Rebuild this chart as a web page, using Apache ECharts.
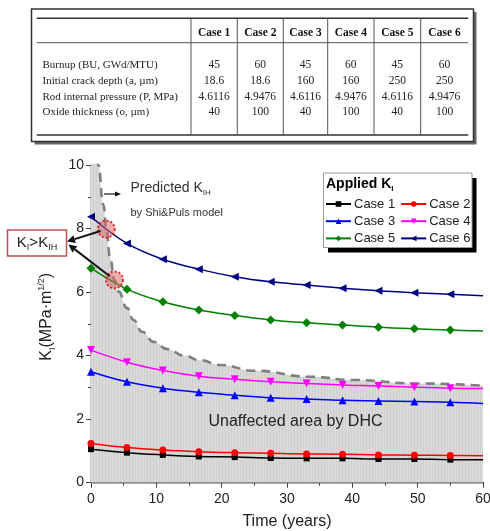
<!DOCTYPE html>
<html>
<head>
<meta charset="utf-8">
<script src="https://cdn.jsdelivr.net/npm/echarts@6/dist/echarts.min.js"></script>
<style>
html,body{margin:0;padding:0;background:#fff;}
#chart{width:490px;height:531px;}
</style>
</head>
<body>
<div id="chart"></div>
<script>
// ---------- data ----------
const tableCols = ['Case 1','Case 2','Case 3','Case 4','Case 5','Case 6'];
const rowLabels = ['Burnup (BU, GWd/MTU)','Initial crack depth (a, \u00b5m)','Rod internal pressure (P, MPa)','Oxide thickness (o, \u00b5m)'];
const burnup = ['45','60','45','60','45','60'];
const crackDepth = ['18.6','18.6','160','160','250','250'];
const pressure = ['4.6116','4.9476','4.6116','4.9476','4.6116','4.9476'];
const oxide = ['40','100','40','100','40','100'];

const seriesNames = ['Case 1','Case 2','Case 3','Case 4','Case 5','Case 6'];
const times = [0,5.5,11,16.5,22,27.5,33,38.5,44,49.5,55,60];
const case1 = [1.05,0.94,0.87,0.82,0.80,0.77,0.76,0.76,0.74,0.74,0.72,0.72];
const case2 = [1.23,1.10,1.02,0.97,0.94,0.92,0.90,0.89,0.87,0.86,0.85,0.84];
const case3 = [3.49,3.17,2.97,2.84,2.75,2.67,2.63,2.59,2.57,2.55,2.53,2.49];
const case4 = [4.17,3.79,3.53,3.35,3.25,3.17,3.12,3.07,3.04,3.00,2.97,2.96];
const case5 = [6.75,6.09,5.69,5.43,5.26,5.12,5.03,4.96,4.89,4.84,4.80,4.77];
const case6 = [8.37,7.53,7.03,6.72,6.48,6.32,6.22,6.12,6.04,5.98,5.93,5.88];

const kihTimes  = [0,0.5,1.1,1.9,2.4,2.9,3.6,4.2,5.5,6.5,7.8,9.6,11.7,14.2,16.7,19.8,25,33.6,40,50,60];
const kihValues = [13.5,11.6,10.0,8.75,7.9,7.1,6.38,6.02,5.5,5.12,4.75,4.43,4.2,4.0,3.85,3.70,3.52,3.33,3.23,3.12,3.05];

const crossTimes = [2.35,3.6];
const crossValues = [7.98,6.38];

// ---------- styles ----------
const colors = ['#000000','#ff0000','#0000ff','#ff00ff','#008000','#000080'];
const symbols = ['rect','circle','triangle','triangle','diamond','triangle'];
const rotations = [0,0,0,180,0,90];
const sizes = [6,7,8,8,9,8];
const allCases = [case1,case2,case3,case4,case5,case6];

const chart = echarts.init(document.getElementById('chart'), null, {renderer:'canvas'});

// hatch pattern for the gray region
const pat = document.createElement('canvas');
pat.width = 3; pat.height = 4;
const pctx = pat.getContext('2d');
pctx.fillStyle = '#d9d9d9'; pctx.fillRect(0,0,3,4);
pctx.fillStyle = '#d0d0d0'; pctx.fillRect(0,0,1,4);

const lineSeries = allCases.map((vals, i) => ({
  name: seriesNames[i],
  type: 'line',
  smooth: 0.4,
  z: 5,
  symbol: symbols[i],
  symbolSize: sizes[i],
  symbolRotate: rotations[i],
  showAllSymbol: true,
  lineStyle: {color: colors[i], width: 1.5},
  itemStyle: {color: colors[i]},
  data: vals.map((v, j) => j === vals.length - 1 ? {value:[times[j], v], symbol:'none'} : [times[j], v])
}));

const axisColor = '#444';
const baseFont = 'Arial, "Liberation Sans", sans-serif';

// table graphics
const tblX = [191,237.3,283.3,327.7,374,420.7,468.3];
const rowY = [65,81,96.7,112.3];
const rowsData = [burnup, crackDepth, pressure, oxide];
const serif = '"Liberation Serif", "Times New Roman", serif';
const graphics = [];
graphics.push({type:'rect', shape:{x:34.5,y:12,width:442,height:132.5}, style:{fill:'#666'}, z:1});
graphics.push({type:'rect', shape:{x:31.5,y:9,width:442,height:132.5}, style:{fill:'#fff', stroke:'#333', lineWidth:1.5}, z:2});
graphics.push({type:'line', shape:{x1:36.7,y1:18.3,x2:468.3,y2:18.3}, style:{stroke:'#333', lineWidth:1.6}, z:3});
graphics.push({type:'line', shape:{x1:36.7,y1:42.7,x2:468.3,y2:42.7}, style:{stroke:'#555', lineWidth:1}, z:3});
graphics.push({type:'line', shape:{x1:36.7,y1:135,x2:468.3,y2:135}, style:{stroke:'#333', lineWidth:1.6}, z:3});
for (let k = 0; k < 6; k++) {
  graphics.push({type:'line', shape:{x1:tblX[k],y1:18.3,x2:tblX[k],y2:135}, style:{stroke:'#555', lineWidth:1}, z:3});
  graphics.push({type:'text', x:(tblX[k]+tblX[k+1])/2, y:33, z:3,
    style:{text:tableCols[k], font:'bold 11.5px ' + serif, fill:'#111', align:'center', verticalAlign:'middle'}});
}
rowLabels.forEach((lab, r) => {
  graphics.push({type:'text', x:42.5, y:rowY[r], z:3,
    style:{text:lab, font:'11px ' + serif, fill:'#222', align:'left', verticalAlign:'middle'}});
  rowsData[r].forEach((v, k) => {
    graphics.push({type:'text', x:(tblX[k]+tblX[k+1])/2, y:rowY[r], z:3,
      style:{text:v, font:'11.5px ' + serif, fill:'#222', align:'center', verticalAlign:'middle'}});
  });
});

// legend box
graphics.push({type:'rect', shape:{x:328,y:178,width:148.5,height:74.5}, style:{fill:'#000'}, z:10});
graphics.push({type:'rect', shape:{x:323.5,y:173,width:148.5,height:74.5}, style:{fill:'#fff', stroke:'#999', lineWidth:1}, z:11});
graphics.push({type:'text', x:326, y:184, z:12,
  style:{text:'{b|Applied K}{s|I}', align:'left', verticalAlign:'middle',
    rich:{b:{font:'bold 14px Arial, "Liberation Sans", sans-serif', fill:'#000', lineHeight:18},
          s:{font:'bold 8px Arial, "Liberation Sans", sans-serif', fill:'#000', verticalAlign:'bottom', lineHeight:12}}}});

// annotations
graphics.push({type:'text', x:130.5, y:188, z:12,
  style:{text:'{a|Predicted K}{s|IH}', align:'left', verticalAlign:'middle',
    rich:{a:{font:'14px Arial, "Liberation Sans", sans-serif', fill:'#333', lineHeight:18},
          s:{font:'8px Arial, "Liberation Sans", sans-serif', fill:'#333', verticalAlign:'bottom', lineHeight:12}}}});
graphics.push({type:'text', x:130.5, y:213, z:12,
  style:{text:'by Shi&Puls model', font:'11px Arial, "Liberation Sans", sans-serif', fill:'#333', align:'left', verticalAlign:'middle'}});
graphics.push({type:'line', shape:{x1:104,y1:194,x2:116,y2:194}, style:{stroke:'#111', lineWidth:1.2}, z:12});
graphics.push({type:'polygon', shape:{points:[[121,194],[115,191.5],[115,196.5]]}, style:{fill:'#111'}, z:12});
graphics.push({type:'text', x:208.5, y:422, z:6,
  style:{text:'Unaffected area by DHC', font:'16px Arial, "Liberation Sans", sans-serif', fill:'#222', align:'left', verticalAlign:'middle'}});
graphics.push({type:'rect', shape:{x:7.5,y:230,width:59,height:26}, style:{fill:'#fff', stroke:'#c0504d', lineWidth:1.5}, z:12});
graphics.push({type:'text', x:37, y:243, z:13,
  style:{text:'{a|K}{s|I}{a|>K}{s|IH}', align:'center', verticalAlign:'middle',
    rich:{a:{font:'15px Arial, "Liberation Sans", sans-serif', fill:'#222', lineHeight:18},
          s:{font:'9px Arial, "Liberation Sans", sans-serif', fill:'#222', verticalAlign:'bottom', lineHeight:13}}}});

const option = {
  animation: false,
  backgroundColor: '#fff',
  grid: {left:91, right:7, top:165, bottom:48.5, containLabel:false, outerBoundsMode:'none'},
  xAxis: [{
    type:'value', min:0, max:60, interval:10,
    name:'Time (years)', nameLocation:'middle', nameGap:31,
    nameTextStyle:{fontSize:16, color:'#222', fontFamily:baseFont},
    axisLine:{show:true, lineStyle:{color:axisColor, width:1.3}},
    axisTick:{show:true, length:5, lineStyle:{color:axisColor}},
    minorTick:{show:true, splitNumber:2, length:3, lineStyle:{color:axisColor}},
    axisLabel:{fontSize:14, color:'#222', fontFamily:baseFont, margin:10},
    splitLine:{show:false}
  },{
    type:'value', position:'top', min:0, max:60, interval:10,
    axisLine:{show:true, lineStyle:{color:axisColor, width:1.3}},
    axisTick:{show:true, inside:true, length:5, lineStyle:{color:axisColor}},
    minorTick:{show:true, splitNumber:2, length:3, lineStyle:{color:axisColor}},
    axisLabel:{show:false}, splitLine:{show:false}
  }],
  yAxis: [{
    type:'value', min:0, max:10, interval:2,
    name:'{k|K}{s|I}{k|(MPa\u00b7m}{p|1/2}{k|)}', nameLocation:'middle', nameGap:34, nameRotate:90,
    nameTextStyle:{color:'#222', padding:[0,0,0,14], rich:{
      k:{fontSize:16, fontFamily:baseFont, color:'#222', lineHeight:20},
      s:{fontSize:9, fontFamily:baseFont, color:'#222', verticalAlign:'bottom', lineHeight:14},
      p:{fontSize:9, fontFamily:baseFont, color:'#222', verticalAlign:'top', lineHeight:12}
    }},
    axisLine:{show:true, lineStyle:{color:axisColor, width:1.3}},
    axisTick:{show:true, length:5, lineStyle:{color:axisColor}},
    minorTick:{show:true, splitNumber:2, length:3, lineStyle:{color:axisColor}},
    axisLabel:{fontSize:14, color:'#222', fontFamily:baseFont, margin:7},
    splitLine:{show:false}
  },{
    type:'value', position:'right', min:0, max:10, interval:2,
    axisLine:{show:true, lineStyle:{color:axisColor, width:1.3}},
    axisTick:{show:true, inside:true, length:5, lineStyle:{color:axisColor}},
    minorTick:{show:true, splitNumber:2, length:3, lineStyle:{color:axisColor}},
    axisLabel:{show:false}, splitLine:{show:false}
  }],
  legend: [0,1,2].map(r => ({
    data: [seriesNames[2*r], seriesNames[2*r+1]],
    left: 325, top: 197.5 + r*17.2,
    orient:'horizontal', itemGap:5, itemWidth:25, itemHeight:7,
    padding:0, z:20,
    textStyle:{fontSize:13, color:'#222', fontFamily:baseFont, padding:[0,0,0,-2]},
    selectedMode:false
  })),
  graphic: graphics,
  series: [
    {
      name:'KIH', type:'line', smooth:0.5, smoothMonotone:'x', z:2, symbol:'none', silent:true,
      lineStyle:{color:'#7f7f7f', width:2.6, type:[9,6]},
      areaStyle:{color:{image:pat, repeat:'repeat'}, opacity:1},
      data: kihTimes.map((t, i) => [t, kihValues[i]])
    },
    ...lineSeries,
    {
      name:'cross', type:'scatter', z:8, symbol:'circle', symbolSize:17, silent:true,
      itemStyle:{color:'rgba(215,100,100,0.65)', borderColor:'#e00000', borderWidth:2, borderType:[2,2]},
      data: crossTimes.map((t, i) => [t, crossValues[i]])
    }
  ]
};
chart.setOption(option);

// arrows from the crossing circles to the K_I > K_IH box
const tips = [[67,241.5],[68.5,244.5]];
const arrows = [];
crossTimes.forEach((t, i) => {
  const p = chart.convertToPixel({xAxisIndex:0, yAxisIndex:0}, [t, crossValues[i]]);
  const tip = tips[i];
  const dx = tip[0]-p[0], dy = tip[1]-p[1];
  const L = Math.sqrt(dx*dx+dy*dy);
  const ux = dx/L, uy = dy/L;
  const sx = p[0] + ux*6, sy = p[1] + uy*6;
  const bx = tip[0] - ux*8, by = tip[1] - uy*8;
  arrows.push({type:'line', shape:{x1:sx,y1:sy,x2:bx,y2:by}, style:{stroke:'#111', lineWidth:2}, z:14});
  arrows.push({type:'polygon', shape:{points:[[tip[0],tip[1]],[bx - uy*4, by + ux*4],[bx + uy*4, by - ux*4]]}, style:{fill:'#111'}, z:14});
});
chart.setOption({graphic: graphics.concat(arrows)});
</script>
</body>
</html>
